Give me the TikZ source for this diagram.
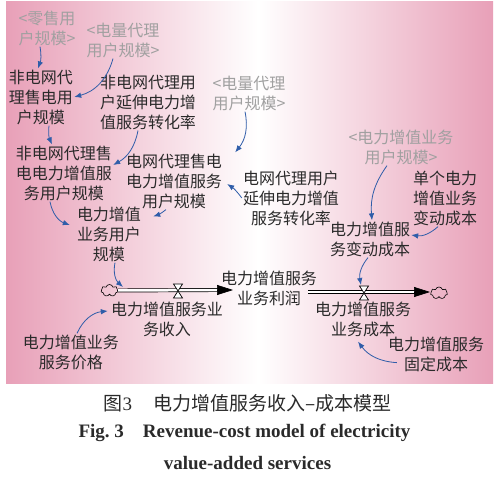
\documentclass[tikz,border=0pt]{standalone}
\usepackage{fontspec}
\setmainfont{Liberation Serif}
\newfontfamily\cjk{Noto Sans CJK SC}
\usetikzlibrary{shapes.symbols, arrows.meta}
\definecolor{linkblue}{HTML}{2F5DA9}
\definecolor{shadowgray}{HTML}{A0A0A0}
\definecolor{inkgray}{HTML}{2A2A2A}
\definecolor{bgpink}{HTML}{E8A0B8}

\begin{document}
\begin{tikzpicture}[x=1pt, y=1pt,
    every node/.style={align=center, inner sep=1pt, text=inkgray, font=\cjk\fontsize{16}{20}\selectfont},
    shadowvar/.style={text=shadowgray},
    link/.style={-{Latex[length=7pt, width=5.5pt]}, draw=linkblue, line width=0.8pt},
    pipe/.style={draw=black, line width=0.7pt, double=white, double distance=2.5pt},
    valve/.style={draw=black, line width=0.7pt, fill=white},
    cloudy/.style={cloud, cloud puffs=7, draw, line width=0.6pt, minimum width=17pt, minimum height=12pt, inner sep=0pt}]

		\useasboundingbox (0,0) rectangle (499,-478);
		\shade[left color=bgpink, right color=white] (6,-2) rectangle (258,-384);
		\shade[left color=white, right color=bgpink] (258,-2) rectangle (493,-384);

		% shadow variables
		\node[shadowvar] (zs) at (47,-28) {<零售用\\户规模>};
		\node[shadowvar] (dl1) at (123,-40) {<电量代理\\用户规模>};
		\node[shadowvar] (dl2) at (249,-93) {<电量代理\\用户规模>};
		\node[shadowvar] (zyg) at (401,-147) {<电力增值业务\\用户规模>};

		\node (fsd) at (41,-97) {非电网代\\理售电用\\户规模};
		\node (fzh) at (148,-102) {非电网代理用\\户延伸电力增\\值服务转化率};
		\node (fzz) at (64,-173) {非电网代理售\\电电力增值服\\务用户规模};
		\node (dzz) at (174,-181) {电网代理售电\\电力增值服务\\用户规模};
		\node (dzh) at (291,-198) {电网代理用户\\延伸电力增值\\服务转化率};
		\node (dbc) at (445,-198) {单个电力\\增值业务\\变动成本};
		\node (bdc) at (370,-239) {电力增值服\\务变动成本};
		\node (yhg) at (109,-234) {电力增值\\业务用户\\规模};
		\node (lr) at (269,-288) {电力增值服务\\业务利润};
		\node (sr) at (167,-319) {电力增值服务业\\务收入};
		\node (cb) at (363,-319) {电力增值服务\\业务成本};
		\node (jg) at (71,-352) {电力增值业务\\服务价格};
		\node (gdc) at (436,-354) {电力增值服务\\固定成本};

		% flows
		\node[cloudy] (c1) at (109.5,-290.5) {};
		\node[cloudy] (c2) at (439,-293) {};
		\coordinate (v1) at (178,-291);
		\coordinate (v2) at (364,-293);
		\coordinate (tip1) at (233,-290);
		\coordinate (out2) at (308,-292);
		\coordinate (tip2) at (430,-292);
		\coordinate (in1) at (123,-287);

		\draw[pipe] (c1.east) -- ([xshift=-14pt]tip1);
		\draw[-{Triangle[length=16pt, width=10pt]}, line width=0.7pt] ([xshift=-16pt]tip1) -- (tip1);
		\draw[pipe] (out2) -- ([xshift=-14pt]tip2);
		\draw[-{Triangle[length=16pt, width=10pt]}, line width=0.7pt] ([xshift=-16pt]tip2) -- (tip2);
		\foreach \v in {v1, v2}
			\draw[valve] ([shift={(-4.5,7)}]\v) -- ([shift={(4.5,7)}]\v) -- ([shift={(-4.5,-7)}]\v) -- ([shift={(4.5,-7)}]\v) -- cycle;

		% links
		\draw[link] ([xshift=-7pt]zs.south) to[bend left=15] ([xshift=-3pt]fsd.north);
		\draw[link] ([xshift=-10pt]dl1.south) to[bend left=30] (fsd.east);
		\draw[link] ([xshift=8pt]fsd.south) to[bend right=15] ([xshift=-12pt]fzz.north);
		\draw[link] ([xshift=-10pt]fzh.south) to[bend left=25] ([yshift=8pt]fzz.east);
		\draw[link] ([xshift=-4pt]dl2.south) to[bend left=25] ([xshift=12pt]dzz.north east);
		\draw[link] (dzh.west) to[bend right=10] ([xshift=4pt, yshift=-3pt]dzz.east);
		\draw[link] ([xshift=-14pt]fzz.south) to[bend right=30] ([xshift=-6pt, yshift=9pt]yhg.west);
		\draw[link] ([xshift=-8pt]dzz.south) to[bend left=10] ([xshift=11pt, yshift=-11pt]yhg.north east);
		\draw[link] ([xshift=6pt]yhg.south) to[bend right=30] (in1);
		\draw[link] ([xshift=6pt]jg.north) to[bend left=30] ([xshift=-2pt, yshift=8pt]sr.west);
		\draw[link] ([xshift=-14pt]zyg.south) to[bend right=20] ([xshift=2pt]bdc.north);
		\draw[link] ([xshift=-7pt]dbc.south) to[bend left=25] ([yshift=4pt]bdc.east);
		\draw[link] ([xshift=-2pt]bdc.south) to[bend right=25] ([xshift=-3pt, yshift=8pt]v2);
		\draw[link] ([xshift=10pt, yshift=10pt]gdc.south west) to[bend left=25] ([xshift=-5pt, yshift=-4pt]cb.south);

		% caption
		\node (cap1) at (247.5,-403) {\fontsize{19}{22}\selectfont 图{\rmfamily 3}\hspace{1.1em}电力增值服务收入–成本模型};
		\node (cap2) at (244.5,-433) {\rmfamily\bfseries\fontsize{19}{22}\selectfont Fig.~3\hspace{1em}Revenue-cost model of electricity};
		\node (cap3) at (247.5,-463) {\rmfamily\bfseries\fontsize{19}{22}\selectfont value-added services};

		\end{tikzpicture}
\end{document}
